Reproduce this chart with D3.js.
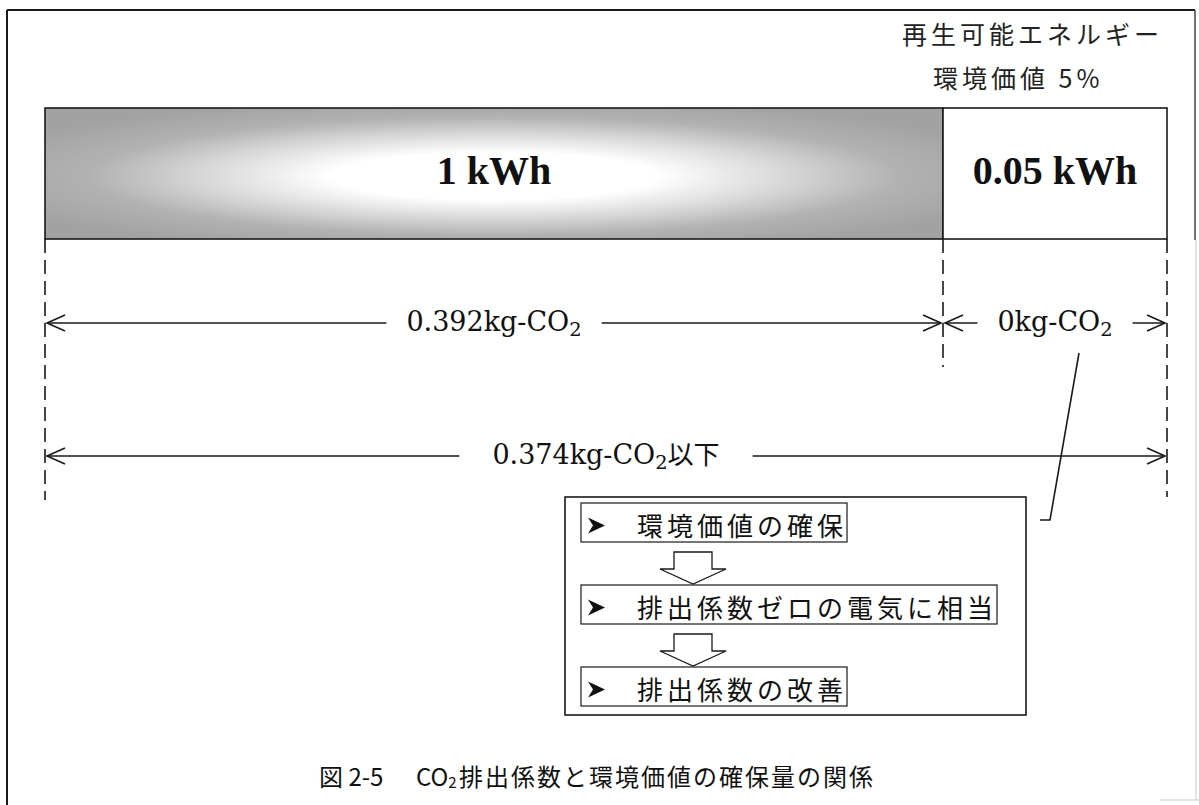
<!DOCTYPE html>
<html><head><meta charset="utf-8">
<script src="https://cdn.jsdelivr.net/npm/d3@7"></script>
<style>html,body{margin:0;padding:0;background:#fff;} svg{display:block;}</style>
</head><body>
<script>
// ---- data ----
const segmentLabels = ["1 kWh", "0.05 kWh"];
const segmentValues = [1, 0.05];
const headerLines = ["再生可能エネルギー", "環境価値 5%"];
const spanLabels = ["0.392kg-CO₂", "0kg-CO₂", "0.374kg-CO₂以下"];
const spanFrom = [0, 1, 0];
const spanTo = [1, 1.05, 1.05];
const steps = ["環境価値の確保", "排出係数ゼロの電気に相当", "排出係数の改善"];
const captionFig = "図 2-5";
const captionChem = "CO₂";
const captionText = "排出係数と環境価値の確保量の関係";

// ---- layout ----
const W = 1199, H = 805;
const svg = d3.select("body").append("svg").attr("width", W).attr("height", H);
const ink = "#1a1a1a";
const jp = "'Noto Sans CJK JP', sans-serif";

const cum = [0];
segmentValues.forEach(v => cum.push(cum[cum.length - 1] + v));
const x = d3.scaleLinear().domain(cum).range([45, 943, 1167]);

// frame
svg.append("line").attr("x1", 7).attr("y1", 10).attr("x2", 7).attr("y2", H).attr("stroke", ink).attr("stroke-width", 2);
svg.append("line").attr("x1", 7).attr("y1", 10).attr("x2", 1195).attr("y2", 10).attr("stroke", ink).attr("stroke-width", 2);
svg.append("line").attr("x1", 1195).attr("y1", 10).attr("x2", 1195).attr("y2", 240).attr("stroke", "#444").attr("stroke-width", 1.5);
svg.append("line").attr("x1", 1196).attr("y1", 240).attr("x2", 1196).attr("y2", 800).attr("stroke", "#c8c8c8").attr("stroke-width", 1);
svg.append("line").attr("x1", 1160).attr("y1", 800).attr("x2", 1199).attr("y2", 800).attr("stroke", "#c8c8c8").attr("stroke-width", 1);

// gradient
const defs = svg.append("defs");
const rg = defs.append("radialGradient").attr("id", "barGrad")
  .attr("cx", 0.5).attr("cy", 0.52).attr("r", 0.6);
[[0, "#ffffff"], [0.3, "#ffffff"], [0.55, "#d6d6d6"], [0.75, "#b2b2b2"], [1, "#a2a2a2"]]
  .forEach(([o, c]) => rg.append("stop").attr("offset", o).attr("stop-color", c));

// header
const hdr = svg.append("g").attr("font-family", jp).attr("font-size", 25).attr("fill", "#222").attr("letter-spacing", 4);
hdr.append("text").attr("x", 902).attr("y", 33).attr("dominant-baseline", "central").text(headerLines[0]);
hdr.append("text").attr("x", 933).attr("y", 77).attr("dominant-baseline", "central").text(headerLines[1]);

// bars
const barTop = 108, barBot = 239;
segmentValues.forEach((v, i) => {
  svg.append("rect")
    .attr("x", x(cum[i])).attr("y", barTop)
    .attr("width", x(cum[i + 1]) - x(cum[i])).attr("height", barBot - barTop)
    .attr("fill", i === 0 ? "url(#barGrad)" : "#fff")
    .attr("stroke", ink).attr("stroke-width", 1.6);
  svg.append("text")
    .attr("x", (x(cum[i]) + x(cum[i + 1])) / 2).attr("y", 184)
    .attr("text-anchor", "middle")
    .attr("font-family", "'Liberation Serif', serif").attr("font-weight", "bold")
    .attr("font-size", 40).attr("fill", "#111")
    .text(segmentLabels[i]);
});

// dashed boundary lines
const dashEnds = [500, 367, 497];
cum.forEach((c, i) => {
  svg.append("line").attr("x1", x(c)).attr("x2", x(c))
    .attr("y1", barBot).attr("y2", dashEnds[i])
    .attr("stroke", ink).attr("stroke-width", 1.6).attr("stroke-dasharray", "14,7");
});

// spans with arrows
function chemText(sel, str) {
  const parts = str.split("₂");
  sel.append("tspan").text(parts[0]);
  if (parts.length > 1) {
    sel.append("tspan").attr("font-size", "0.72em").attr("dy", 5).text("2");
    if (parts[1]) sel.append("tspan").attr("dy", -5).attr("font-family", jp).attr("font-size", 26).text(parts[1]);
  }
}
const spanY = [323, 323, 456];
const gaps = [20, 20, 33];
spanLabels.forEach((lab, i) => {
  const x0 = x(spanFrom[i]) + 2, x1 = x(spanTo[i]) - 2, y = spanY[i];
  const cx = (x(spanFrom[i]) + x(spanTo[i])) / 2;
  const t = svg.append("text").attr("x", cx).attr("y", y + 8)
    .attr("text-anchor", "middle").attr("font-family", "'DejaVu Serif', serif")
    .attr("font-size", 27).attr("fill", "#111");
  chemText(t, lab);
  const len = t.node().getComputedTextLength();
  const g = svg.append("g").attr("stroke", ink).attr("stroke-width", 1.6).attr("fill", "none");
  g.append("line").attr("x1", x0).attr("x2", cx - len / 2 - gaps[i]).attr("y1", y).attr("y2", y);
  g.append("line").attr("x1", cx + len / 2 + gaps[i]).attr("x2", x1).attr("y1", y).attr("y2", y);
  g.append("path").attr("d", `M${x0 + 18},${y - 8}L${x0},${y}L${x0 + 18},${y + 8}`);
  g.append("path").attr("d", `M${x1 - 18},${y - 8}L${x1},${y}L${x1 - 18},${y + 8}`);
});

// leader line from the 0kg-CO2 label to the box
const lx = (x(1) + x(1.05)) / 2;
svg.append("path")
  .attr("d", `M${lx + 24},353L${lx - 5},520L${lx - 15},520`)
  .attr("fill", "none").attr("stroke", ink).attr("stroke-width", 1.6);

// outer box
svg.append("rect").attr("x", 565).attr("y", 497).attr("width", 1026 - 565).attr("height", 715 - 497)
  .attr("fill", "none").attr("stroke", ink).attr("stroke-width", 1.6);

// step boxes
const stepTop = [503, 585, 667], stepH = 39, stepLeft = 581, textLeft = 637;
const stepBottoms = [];
steps.forEach((s, i) => {
  const cy = stepTop[i] + stepH / 2;
  const t = svg.append("text").attr("x", textLeft).attr("y", cy + 2)
    .attr("dominant-baseline", "central").attr("font-family", jp)
    .attr("font-size", 26).attr("letter-spacing", 4).attr("fill", "#111").text(s);
  const len = t.node().getComputedTextLength();
  svg.append("rect").attr("x", stepLeft).attr("y", stepTop[i])
    .attr("width", textLeft + len - stepLeft).attr("height", stepH)
    .attr("fill", "none").attr("stroke", ink).attr("stroke-width", 1.2);
  const mx = stepLeft + 7, my = cy + 3;
  svg.append("path").attr("d", `M${mx},${my - 8}L${mx + 17},${my}L${mx},${my + 8}L${mx + 5},${my}Z`)
    .attr("fill", "#111");
  stepBottoms.push(stepTop[i] + stepH);
});

// block down arrows
const ax = 693;
for (let i = 0; i < steps.length - 1; i++) {
  const top = stepBottoms[i] + 10, tip = stepTop[i + 1] - 1, sh = tip - 15;
  svg.append("path")
    .attr("d", `M${ax - 19},${top}L${ax + 19},${top}L${ax + 19},${sh}L${ax + 33},${sh}L${ax},${tip}L${ax - 33},${sh}L${ax - 19},${sh}Z`)
    .attr("fill", "#fff").attr("stroke", ink).attr("stroke-width", 1.3);
}

// caption
const cap = svg.append("text").attr("y", 775).attr("dominant-baseline", "central")
  .attr("font-family", jp).attr("font-size", 24).attr("fill", "#111");
cap.append("tspan").attr("x", 319).text(captionFig);
cap.append("tspan").attr("x", 416).text(captionChem.replace("₂", ""));
cap.append("tspan").attr("font-size", 15).attr("dy", 6).text("2");
cap.append("tspan").attr("x", 459).attr("dy", -6).attr("letter-spacing", 2).text(captionText);
</script>
</body></html>
